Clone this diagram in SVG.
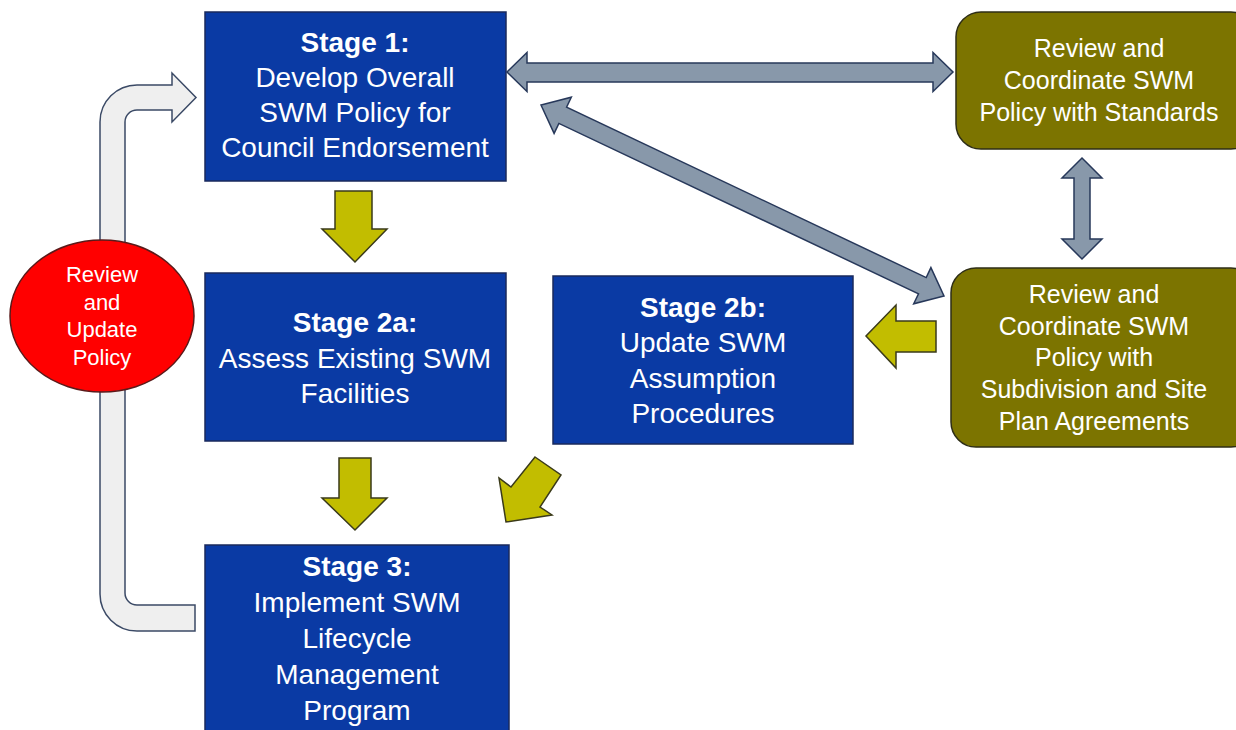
<svg xmlns="http://www.w3.org/2000/svg" width="1236" height="730" viewBox="0 0 1236 730">
<style>
.blue{fill:#0a3aa4;stroke:#1a2a5c;stroke-width:1.5}
.olive{fill:#7c7400;stroke:#2e2e16;stroke-width:1.5}
.yel{fill:#c2bd00;stroke:#3a3a1a;stroke-width:1.5;stroke-linejoin:miter}
.gray{fill:#8898aa;stroke:#27385a;stroke-width:1.5;stroke-linejoin:miter}
.loop{fill:#efefef;stroke:#3b4a66;stroke-width:1.5}
text{font-family:"Liberation Sans",Arial,sans-serif;fill:#ffffff;text-anchor:middle}
.t28{font-size:28px}
.t25{font-size:25px}
.t22{font-size:22px}
.b{font-weight:bold}
</style>
<rect width="1236" height="730" fill="#ffffff"/>
<g id="connectors">
<path class="loop" d="M195,631 L137,631 A37,37 0 0 1 100,594 L100,122 A37,37 0 0 1 137,85 L172,85 L172,73 L196,97.5 L172,122 L172,110 L137,110 A12,12 0 0 0 125,122 L125,593 A12,12 0 0 0 137,605 L195,605 Z"/>
<polygon class="gray" points="507,72 527,52.5 527,63 933,63 933,52.5 953,72 933,91.5 933,82 527,82 527,91.5"/>
<polygon class="gray" points="1082,158 1102,178 1090,178 1090,239 1102,239 1082,259 1062,239 1074,239 1074,178 1062,178"/>
<polygon class="gray" points="541,105 554.1,133.4 558.9,123.4 918.5,293.8 913.7,303.8 944,296 930.9,267.6 926.2,277.6 566.6,107.2 571.3,97.2"/>
<polygon class="yel" points="335,191 372,191 372,229 387,229 355,262 322,229 335,229"/>
<polygon class="yel" points="339,458 371,458 371,498 387,498 355,530 322,498 339,498"/>
<polygon class="yel" points="936,321 936,352 896,352 896,368 866,336 896,305 896,321"/>
<polygon class="yel" points="535,457 561,475 540,507 552,515 506,522 499,478 511,487"/>
</g>
<g id="stage1">
<rect class="blue" x="205" y="12" width="301" height="169"/>
<text class="t28 b" x="355" y="52">Stage 1:</text>
<text class="t28" x="355" y="87">Develop Overall</text>
<text class="t28" x="355" y="122">SWM Policy for</text>
<text class="t28" x="355" y="157">Council Endorsement</text>
</g>
<g id="stage2a">
<rect class="blue" x="205" y="273" width="301" height="168"/>
<text class="t28 b" x="355" y="332">Stage 2a:</text>
<text class="t28" x="355" y="368">Assess Existing SWM</text>
<text class="t28" x="355" y="403">Facilities</text>
</g>
<g id="stage2b">
<rect class="blue" x="553" y="276" width="300" height="168"/>
<text class="t28 b" x="703" y="317">Stage 2b:</text>
<text class="t28" x="703" y="352">Update SWM</text>
<text class="t28" x="703" y="388">Assumption</text>
<text class="t28" x="703" y="423">Procedures</text>
</g>
<g id="stage3">
<rect class="blue" x="205" y="545" width="304" height="200"/>
<text class="t28 b" x="357" y="576">Stage 3:</text>
<text class="t28" x="357" y="612">Implement SWM</text>
<text class="t28" x="357" y="648">Lifecycle</text>
<text class="t28" x="357" y="684">Management</text>
<text class="t28" x="357" y="720">Program</text>
</g>
<g id="standards">
<rect class="olive" x="956" y="12" width="300" height="137" rx="25" ry="25"/>
<text class="t25" x="1099" y="57">Review and</text>
<text class="t25" x="1099" y="89">Coordinate SWM</text>
<text class="t25" x="1099" y="121">Policy with Standards</text>
</g>
<g id="subdivision">
<rect class="olive" x="951" y="268" width="305" height="179" rx="25" ry="25"/>
<text class="t25" x="1094" y="303">Review and</text>
<text class="t25" x="1094" y="335">Coordinate SWM</text>
<text class="t25" x="1094" y="366">Policy with</text>
<text class="t25" x="1094" y="398">Subdivision and Site</text>
<text class="t25" x="1094" y="430">Plan Agreements</text>
</g>
<g id="review">
<ellipse cx="102" cy="316" rx="92" ry="76" fill="#ff0000" stroke="#5a1a1a" stroke-width="1.5"/>
<text class="t22" x="102" y="282">Review</text>
<text class="t22" x="102" y="309.5">and</text>
<text class="t22" x="102" y="337">Update</text>
<text class="t22" x="102" y="364.5">Policy</text>
</g>
</svg>
